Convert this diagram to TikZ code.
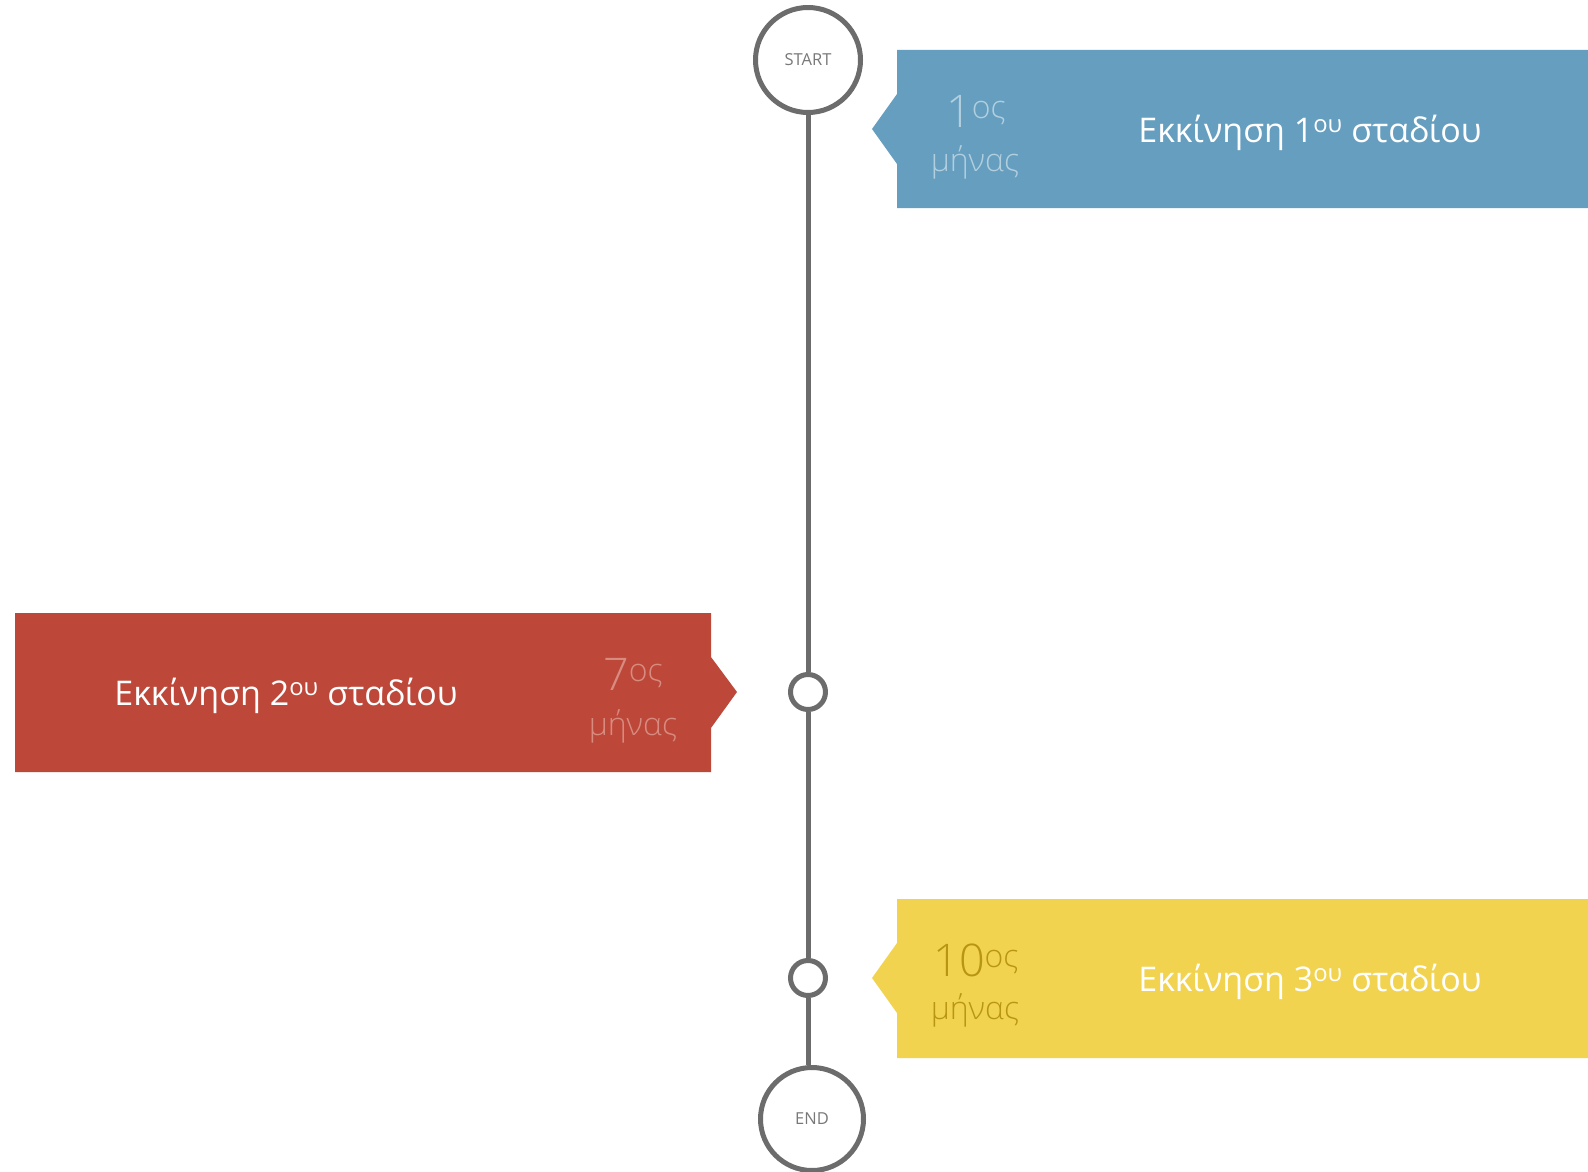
\documentclass[tikz,border=0pt]{standalone}
\usepackage{fontspec}
\setmainfont{Open Sans}
\newfontfamily\numfont{Open Sans Light}
\definecolor{boxblue}{RGB}{101,158,191}
\definecolor{boxred}{RGB}{189,72,58}
\definecolor{boxyellow}{RGB}{242,211,80}
\definecolor{linegray}{RGB}{108,108,108}
\definecolor{labgray}{RGB}{120,120,120}
\definecolor{numblue}{RGB}{178,207,223}
\definecolor{numred}{RGB}{216,140,128}
\definecolor{numyellow}{RGB}{184,150,20}
\begin{document}
\begin{tikzpicture}[x=1pt,y=-1pt,
  bigcirc/.style={circle,draw=linegray,line width=5pt,fill=white,minimum size=105pt,inner sep=0pt,
    font=\fontsize{16.5}{18}\selectfont,text=labgray},
  smallcirc/.style={circle,draw=linegray,line width=5pt,fill=white,minimum size=35pt,inner sep=0pt},
  axis/.style={draw=linegray,line width=5pt},
  title/.style={anchor=base,text=white,inner sep=0pt,font=\fontsize{34}{40}\selectfont},
  num/.style={anchor=base,inner sep=0pt,font=\numfont\fontsize{45}{50}\selectfont},
  month/.style={anchor=base,inner sep=0pt,font=\numfont\fontsize{32}{36}\selectfont}
]
\useasboundingbox (0,0) rectangle (1588,1172);
% boxes
\fill[boxblue] (897,50) -- (1588,50) -- (1588,208) -- (897,208) -- (897,164) -- (872,129) -- (897,94) -- cycle;
\fill[boxred] (15,613) -- (711,613) -- (711,657) -- (737,692) -- (711,728) -- (711,772) -- (15,772) -- cycle;
\fill[boxyellow] (897,899) -- (1588,899) -- (1588,1058) -- (897,1058) -- (897,1013) -- (872,978) -- (897,943) -- cycle;
% timeline nodes
\node[bigcirc] (start) at (808,60) {START};
\node[smallcirc] (m1) at (808,692) {};
\node[smallcirc] (m2) at (808,978) {};
\node[bigcirc,minimum size=103pt] (end) at (812,1119) {END};
\draw[axis] (start.south) -- (m1.north);
\draw[axis] (m1.south) -- (m2.north);
\draw[axis] (m2.south) -- (m2.south |- end.north);
% texts
\node[title] (t1) at (1310,142) {Εκκίνηση 1\textsuperscript{ου} σταδίου};
\node[title] (t2) at (286,705) {Εκκίνηση 2\textsuperscript{ου} σταδίου};
\node[title] (t3) at (1310,991) {Εκκίνηση 3\textsuperscript{ου} σταδίου};
\node[num,text=numblue] (n1) at (976,127) {1\raisebox{9pt}{\fontsize{32}{36}\selectfont ος}};
\node[month,text=numblue] (mo1) at (975,171) {μήνας};
\node[num,text=numred] (n2) at (633,690) {7\raisebox{9pt}{\fontsize{32}{36}\selectfont ος}};
\node[month,text=numred] (mo2) at (633,735) {μήνας};
\node[num,text=numyellow] (n3) at (976,976) {10\raisebox{9pt}{\fontsize{32}{36}\selectfont ος}};
\node[month,text=numyellow] (mo3) at (975,1019) {μήνας};
\end{tikzpicture}
\end{document}
